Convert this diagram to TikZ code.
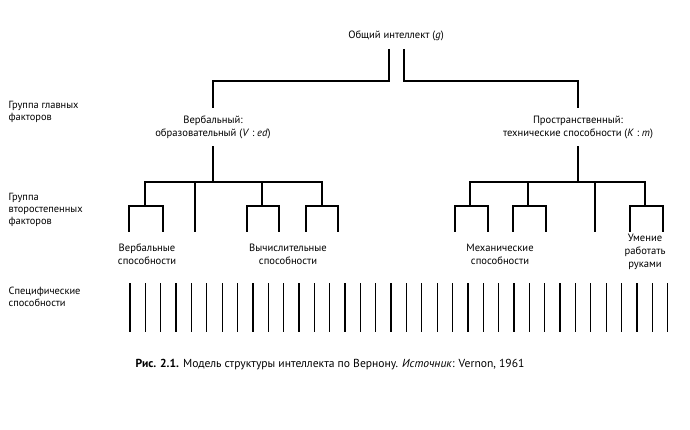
\documentclass[tikz,border=0pt]{standalone}
\usepackage{fontspec}
\setmainfont{PT Sans}

\begin{document}
\begin{tikzpicture}[x=1pt,y=-1pt,line width=1.3pt,
label/.style={inner sep=0pt,font=\fontsize{10.6}{13}\selectfont,align=center},
major/.style={label,inner sep=7pt},
grouplabel/.style={inner sep=0pt,font=\fontsize{10.4}{12}\selectfont,align=left,anchor=west},
caption/.style={inner sep=0pt,font=\fontsize{11.6}{13}\selectfont,anchor=west}]

\fill[white] (0,0) rectangle (690,430);
\useasboundingbox (0,0) rectangle (690,430);

\draw (396,36) node[label] (G) {Общий интеллект (\textit{g})};
\draw (213,127) node[major] (VED) {Вербальный:\\образовательный (\textit{V} : \textit{ed})};
\draw (578,127) node[major] (KM) {Пространственный:\\технические способности (\textit{K} : \textit{m})};

\coordinate (GL) at (389,49);
\coordinate (GR) at (404,49);
\draw (GL) |- (213,81) -- (VED.north);
\draw (GR) |- (578,81) -- (KM.north);

% side labels
\draw (8,112) node[grouplabel] (L1) {Группа главных\\факторов};
\draw (8,210) node[grouplabel] (L2) {Группа\\второстепенных\\факторов};
\draw (8,297) node[grouplabel] (L3) {Специфические\\способности};

% minor factors, left
\coordinate (VB) at (213,182);
\draw (VED.south) -- (VB);
\draw (145,206) |- (322,182) -- (322,206);
\draw (195,182) -- (195,232);
\draw (262,182) -- (262,206);
\draw (129,232) |- (163,206) -- (163,232);
\draw (247,232) |- (279,206) -- (279,232);
\draw (306,232) |- (338,206) -- (338,232);

% minor factors, right
\coordinate (KB) at (578,182);
\draw (KM.south) -- (KB);
\draw (470,206) |- (645,182) -- (645,206);
\draw (528,182) -- (528,206);
\draw (595,182) -- (595,232);
\draw (455,232) |- (488,206) -- (488,232);
\draw (513,232) |- (546,206) -- (546,232);
\draw (630,232) |- (663,206) -- (663,232);

\draw (147,254) node[label] (VS) {Вербальные\\способности};
\draw (288,254) node[label] (NS) {Вычислительные\\способности};
\draw (500,254) node[label] (MS) {Механические\\способности};
\draw (645,252) node[label] (HS) {Умение\\работать\\руками};

% specific abilities
\foreach \i in {0,...,35}
  \draw (130+\i*15.36,283) -- ++(0,49);

\draw (135,365) node[caption] (CAP) {\textbf{Рис. 2.1.} Модель структуры интеллекта по Вернону. \textit{Источник}: Vernon, 1961};

\end{tikzpicture}
\end{document}
